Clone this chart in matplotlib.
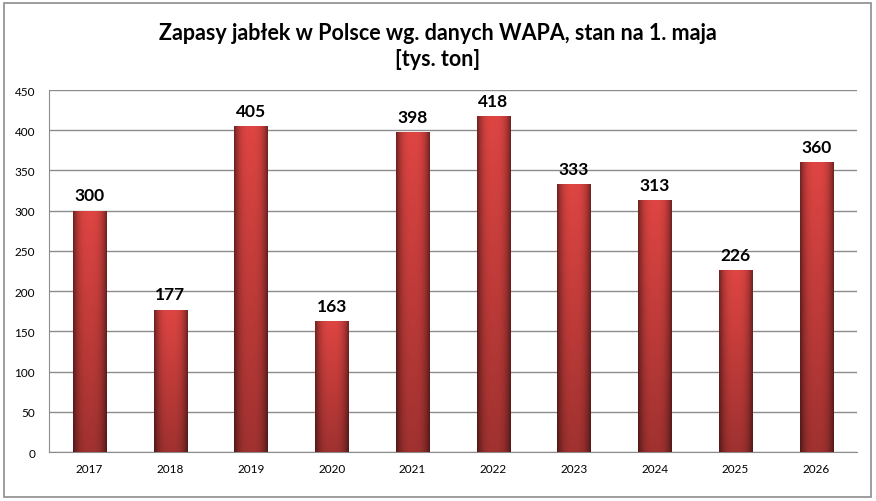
import numpy as np
import matplotlib.pyplot as plt
from matplotlib.patches import Rectangle

years = ["2017", "2018", "2019", "2020", "2021", "2022", "2023", "2024", "2025", "2026"]
stocks = [300, 177, 405, 163, 398, 418, 333, 313, 226, 360]

plt.rcParams["font.family"] = ["Lato", "DejaVu Sans"]

fig = plt.figure(figsize=(8.76, 5.02), dpi=100)
fig.patches.append(Rectangle((0.004, 0.008), 0.99, 0.985, transform=fig.transFigure,
                             fill=False, edgecolor="#8c8c8c", linewidth=1.2))
ax = fig.add_axes([0.056, 0.0976, 0.922, 0.721])

x = np.arange(len(years))
bars = ax.bar(x, stocks, width=0.41, color="#c03a3a", zorder=2)

# horizontal shading: dark edges, light centre, darker towards the bottom
u = np.linspace(-1, 1, 60)
prof = 1 - 0.5 * np.abs(u) ** 3
v = np.linspace(0, 1, 100)[:, None]
light = prof[None, :] * (0.72 + 0.28 * v)
base = np.array([0.87, 0.27, 0.26])
img = np.clip(light[..., None] * base[None, None, :], 0, 1)
for b in bars:
    x0, w, h = b.get_x(), b.get_width(), b.get_height()
    im = ax.imshow(img, extent=(x0, x0 + w, 0, h), origin="lower",
                   aspect="auto", zorder=3)
    im.set_clip_path(b)
    ax.text(b.get_x() + w / 2, h + 9, str(int(h)), ha="center", va="bottom",
            fontsize=12.5, fontweight="bold", zorder=4)

ax.set_xlim(-0.5, len(years) - 0.5)
ax.set_ylim(0, 450)
ax.set_yticks(range(0, 451, 50))
ax.set_xticks(x)
ax.set_xticklabels(years)
ax.yaxis.grid(True, color="#8c8c8c", linewidth=1)
ax.set_axisbelow(True)
for s in ["top", "right"]:
    ax.spines[s].set_visible(False)
for s in ["left", "bottom"]:
    ax.spines[s].set_color("#8c8c8c")
ax.tick_params(length=0, labelsize=8.5, pad=8)
ax.tick_params(axis="y", pad=10)

fig.text(0.5, 0.908, "Zapasy jabłek w Polsce wg. danych WAPA, stan na 1. maja\n[tys. ton]",
         ha="center", va="center", fontsize=15.5, fontweight="bold", linespacing=1.3)

fig.savefig("out.png", dpi=100)
